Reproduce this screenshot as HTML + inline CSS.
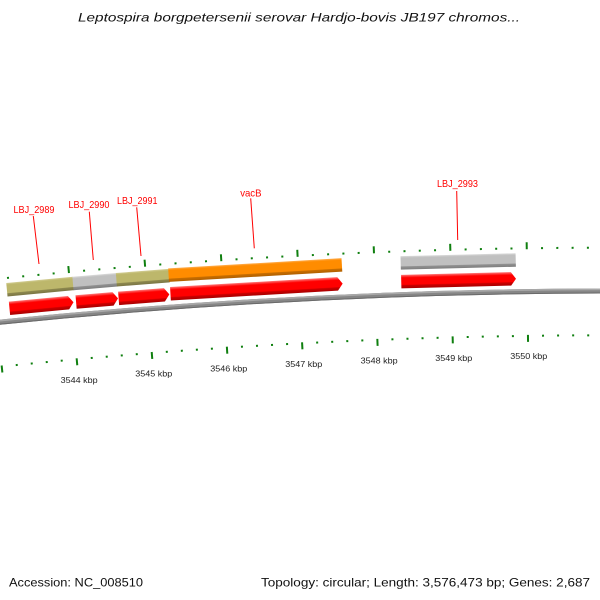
<!DOCTYPE html>
<html>
<head>
<meta charset="utf-8">
<style>
html,body{margin:0;padding:0;background:#fff;width:600px;height:600px;overflow:hidden}
svg{display:block}
</style>
</head>
<body>
<svg width="600" height="600" viewBox="0 0 600 600" xmlns="http://www.w3.org/2000/svg" overflow="hidden">
<defs>
  <linearGradient id="gRed" gradientUnits="userSpaceOnUse" x1="0" y1="271.5" x2="0" y2="285">
    <stop offset="0" stop-color="#ff7a7a"/>
    <stop offset="0.14" stop-color="#ff2a2a"/>
    <stop offset="0.22" stop-color="#ff0000"/>
    <stop offset="0.72" stop-color="#ff0000"/>
    <stop offset="0.78" stop-color="#cc0000"/>
    <stop offset="1" stop-color="#a80000"/>
  </linearGradient>
  <linearGradient id="gOlive" gradientUnits="userSpaceOnUse" x1="0" y1="252.8" x2="0" y2="266.3">
    <stop offset="0" stop-color="#d2cd93"/>
    <stop offset="0.14" stop-color="#bdb76b"/>
    <stop offset="0.74" stop-color="#bdb76b"/>
    <stop offset="0.78" stop-color="#8d884e"/>
    <stop offset="1" stop-color="#7a7544"/>
  </linearGradient>
  <linearGradient id="gGray" gradientUnits="userSpaceOnUse" x1="0" y1="252.8" x2="0" y2="266.3">
    <stop offset="0" stop-color="#dadada"/>
    <stop offset="0.14" stop-color="#c0c0c0"/>
    <stop offset="0.74" stop-color="#c0c0c0"/>
    <stop offset="0.78" stop-color="#919191"/>
    <stop offset="1" stop-color="#7e7e7e"/>
  </linearGradient>
  <linearGradient id="gOrange" gradientUnits="userSpaceOnUse" x1="0" y1="252.8" x2="0" y2="266.3">
    <stop offset="0" stop-color="#ffae50"/>
    <stop offset="0.14" stop-color="#ff8c00"/>
    <stop offset="0.74" stop-color="#ff8c00"/>
    <stop offset="0.78" stop-color="#c86e00"/>
    <stop offset="1" stop-color="#b06000"/>
  </linearGradient>
  <g id="mn" fill="#0f7f0f"><rect x="609" y="246.7" width="2" height="2"/><rect x="609" y="334.3" width="2" height="2"/></g>
  <g id="mj" fill="#0f7f0f"><rect x="609" y="241.7" width="2" height="7"/><rect x="609" y="334.3" width="2" height="7"/></g>
</defs>

<!-- Title -->
<text x="78" y="21.5" font-family="Liberation Sans, sans-serif" font-style="italic" font-size="12" fill="#111" textLength="442" lengthAdjust="spacingAndGlyphs">Leptospira borgpetersenii serovar Hardjo-bovis JB197 chromos...</text>

<!-- Backbone (arcs of circle centred at 610,6275) -->
<path d="M -5 322.69 A 5984 5984 0 0 1 605 291.0" fill="none" stroke="#868686" stroke-width="5"/>
<path d="M -5 321.08 A 5985.6 5985.6 0 0 1 605 289.4" fill="none" stroke="#a8a8a8" stroke-width="1.8"/>
<path d="M -5 324.70 A 5982 5982 0 0 1 605 293.0" fill="none" stroke="#6a6a6a" stroke-width="1"/>

<!-- Ticks -->
<use href="#mj" transform="rotate(-5.8776 610 6275)"/>
<use href="#mn" transform="rotate(-5.7323 610 6275)"/>
<use href="#mn" transform="rotate(-5.5870 610 6275)"/>
<use href="#mn" transform="rotate(-5.4416 610 6275)"/>
<use href="#mn" transform="rotate(-5.2963 610 6275)"/>
<use href="#mj" transform="rotate(-5.1510 610 6275)"/>
<use href="#mn" transform="rotate(-5.0057 610 6275)"/>
<use href="#mn" transform="rotate(-4.8604 610 6275)"/>
<use href="#mn" transform="rotate(-4.7150 610 6275)"/>
<use href="#mn" transform="rotate(-4.5697 610 6275)"/>
<use href="#mj" transform="rotate(-4.4244 610 6275)"/>
<use href="#mn" transform="rotate(-4.2791 610 6275)"/>
<use href="#mn" transform="rotate(-4.1338 610 6275)"/>
<use href="#mn" transform="rotate(-3.9884 610 6275)"/>
<use href="#mn" transform="rotate(-3.8431 610 6275)"/>
<use href="#mj" transform="rotate(-3.6978 610 6275)"/>
<use href="#mn" transform="rotate(-3.5525 610 6275)"/>
<use href="#mn" transform="rotate(-3.4072 610 6275)"/>
<use href="#mn" transform="rotate(-3.2618 610 6275)"/>
<use href="#mn" transform="rotate(-3.1165 610 6275)"/>
<use href="#mj" transform="rotate(-2.9712 610 6275)"/>
<use href="#mn" transform="rotate(-2.8259 610 6275)"/>
<use href="#mn" transform="rotate(-2.6806 610 6275)"/>
<use href="#mn" transform="rotate(-2.5352 610 6275)"/>
<use href="#mn" transform="rotate(-2.3899 610 6275)"/>
<use href="#mj" transform="rotate(-2.2446 610 6275)"/>
<use href="#mn" transform="rotate(-2.0993 610 6275)"/>
<use href="#mn" transform="rotate(-1.9540 610 6275)"/>
<use href="#mn" transform="rotate(-1.8086 610 6275)"/>
<use href="#mn" transform="rotate(-1.6633 610 6275)"/>
<use href="#mj" transform="rotate(-1.5180 610 6275)"/>
<use href="#mn" transform="rotate(-1.3727 610 6275)"/>
<use href="#mn" transform="rotate(-1.2274 610 6275)"/>
<use href="#mn" transform="rotate(-1.0820 610 6275)"/>
<use href="#mn" transform="rotate(-0.9367 610 6275)"/>
<use href="#mj" transform="rotate(-0.7914 610 6275)"/>
<use href="#mn" transform="rotate(-0.6461 610 6275)"/>
<use href="#mn" transform="rotate(-0.5008 610 6275)"/>
<use href="#mn" transform="rotate(-0.3554 610 6275)"/>
<use href="#mn" transform="rotate(-0.2101 610 6275)"/>
<use href="#mj" transform="rotate(-0.0648 610 6275)"/>

<!-- COG bars -->
<rect x="576.5" y="252.8" width="67" height="13.5" fill="url(#gOlive)" transform="rotate(-5.435 610 6275)"/>
<rect x="587.9" y="252.8" width="44.2" height="13.5" fill="url(#gGray)" transform="rotate(-4.9115 610 6275)"/>
<rect x="583.5" y="252.8" width="53" height="13.5" fill="url(#gOlive)" transform="rotate(-4.4545 610 6275)"/>
<rect x="523.2" y="252.8" width="173.6" height="13.5" fill="url(#gOrange)" transform="rotate(-3.381 610 6275)"/>
<rect x="552.45" y="252.8" width="115.1" height="13.5" fill="url(#gGray)" transform="rotate(-1.446 610 6275)"/>

<!-- Forward CDS arrows -->
<polygon points="577.85,271.5 637.15,271.5 642.15,278.25 637.15,285 577.85,285" fill="url(#gRed)" transform="rotate(-5.44 610 6275)"/>
<polygon points="588.95,271.5 626.05,271.5 631.05,278.25 626.05,285 588.95,285" fill="url(#gRed)" transform="rotate(-4.907 610 6275)"/>
<polygon points="584.55,271.5 630.45,271.5 635.45,278.25 630.45,285 584.55,285" fill="url(#gRed)" transform="rotate(-4.457 610 6275)"/>
<polygon points="523.75,271.5 691.25,271.5 696.25,278.25 691.25,285 523.75,285" fill="url(#gRed)" transform="rotate(-3.379 610 6275)"/>
<polygon points="552.6,271.5 662.4,271.5 667.4,278.25 662.4,285 552.6,285" fill="url(#gRed)" transform="rotate(-1.4465 610 6275)"/>

<!-- Leader lines -->
<g stroke="#ff0000" stroke-width="1" fill="none">
  <line x1="33.3" y1="216" x2="39" y2="264"/>
  <line x1="89.3" y1="211.7" x2="93.3" y2="260"/>
  <line x1="136.7" y1="207.3" x2="141" y2="256"/>
  <line x1="250.7" y1="198.3" x2="254.3" y2="248.3"/>
  <line x1="456.7" y1="191" x2="457.7" y2="240"/>
</g>

<!-- Gene labels -->
<g font-family="Liberation Sans, sans-serif" font-size="10.5" fill="#ff0000">
  <text x="13.5" y="213" textLength="41" lengthAdjust="spacingAndGlyphs">LBJ_2989</text>
  <text x="68.5" y="208" textLength="41" lengthAdjust="spacingAndGlyphs">LBJ_2990</text>
  <text x="117" y="203.8" textLength="40.5" lengthAdjust="spacingAndGlyphs">LBJ_2991</text>
  <text x="240.2" y="196.5" textLength="21.3" lengthAdjust="spacingAndGlyphs">vacB</text>
  <text x="437" y="187" textLength="41" lengthAdjust="spacingAndGlyphs">LBJ_2993</text>
</g>

<!-- kbp labels -->
<g font-family="Liberation Sans, sans-serif" font-size="8.5" fill="#222">
  <text x="60.7" y="383" textLength="37" lengthAdjust="spacingAndGlyphs">3544 kbp</text>
  <text x="135.3" y="376.7" textLength="37" lengthAdjust="spacingAndGlyphs">3545 kbp</text>
  <text x="210.3" y="371.4" textLength="37" lengthAdjust="spacingAndGlyphs">3546 kbp</text>
  <text x="285.3" y="367.1" textLength="37" lengthAdjust="spacingAndGlyphs">3547 kbp</text>
  <text x="360.7" y="363.7" textLength="37" lengthAdjust="spacingAndGlyphs">3548 kbp</text>
  <text x="435.3" y="361.2" textLength="37" lengthAdjust="spacingAndGlyphs">3549 kbp</text>
  <text x="510.3" y="359.2" textLength="37" lengthAdjust="spacingAndGlyphs">3550 kbp</text>
</g>

<!-- Footer -->
<g font-family="Liberation Sans, sans-serif" font-size="12" fill="#111">
  <text x="9" y="586.3" textLength="134" lengthAdjust="spacingAndGlyphs">Accession: NC_008510</text>
  <text x="261" y="586.3" textLength="329" lengthAdjust="spacingAndGlyphs">Topology: circular; Length: 3,576,473 bp; Genes: 2,687</text>
</g>
</svg>
</body>
</html>
